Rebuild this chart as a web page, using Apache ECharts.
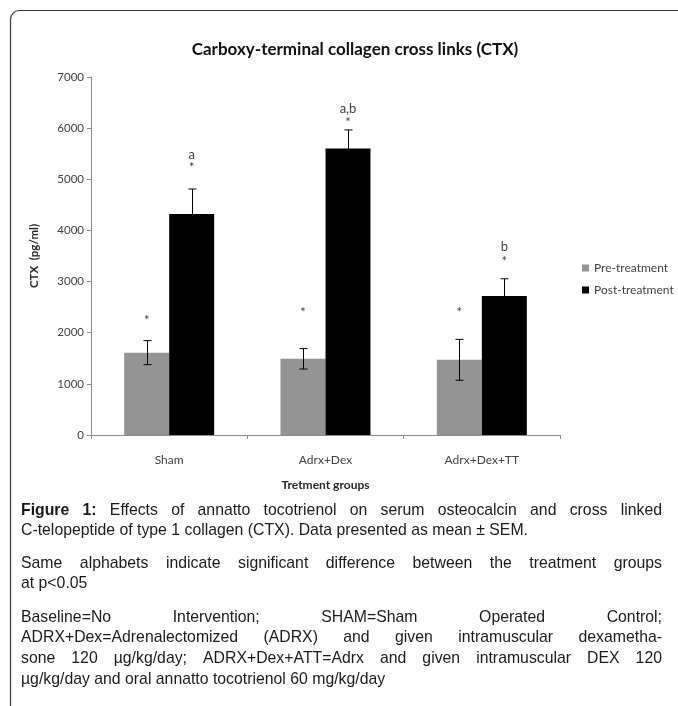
<!DOCTYPE html>
<html>
<head>
<meta charset="utf-8">
<script src="https://cdn.jsdelivr.net/npm/echarts@6/dist/echarts.min.js"></script>
<style>
  html, body { margin: 0; padding: 0; background: #ffffff; }
  #chart { width: 678px; height: 706px; }
</style>
</head>
<body>
<div id="chart"></div>
<script>
// Treatment groups on the category axis
const groups = ['Sham', 'Adrx+Dex', 'Adrx+Dex+TT'];

// Serum CTX (pg/ml), mean and SEM
const preTreatment = [1610, 1490, 1470];
const preSem = [235, 200, 400];
const postTreatment = [4320, 5600, 2720];
const postSem = [490, 365, 335];

// Value axis ticks
const yMin = 0;
const yMax = 7000;
const yStep = 1000;

// Significance marks (value-axis heights of the symbols)
const preStarAt = [2230, 2390, 2390];
const postStarAt = [5220, 6100, 3380];
const postLetters = ['a', 'a,b', 'b'];
const postLetterAt = [5475, 6375, 3675];

const BAR_W = 45;
const chartFont = 'Lato, "Open Sans", sans-serif';
const captionFontFamily = '"Liberation Sans", Arial, sans-serif';
const captionSize = 17;
const captionScaleX = 0.93;

const chart = echarts.init(document.getElementById('chart'), null, { renderer: 'canvas' });

// Error bars drawn beside the bar of one series (side: -1 left bar, +1 right bar)
function errorBarRenderer(side) {
  return function (params, api) {
    const idx = api.value(0);
    const mean = api.value(1);
    const sem = api.value(2);
    const hi = api.coord([idx, mean + sem]);
    const lo = api.coord([idx, mean - sem]);
    const x = Math.round(hi[0] + side * BAR_W / 2) + 0.5;
    const cap = 4;
    const style = { stroke: '#000000', lineWidth: 1 };
    return {
      type: 'group',
      children: [
        { type: 'line', shape: { x1: x, y1: hi[1], x2: x, y2: lo[1] }, style: style },
        { type: 'line', shape: { x1: x - cap, y1: hi[1], x2: x + cap, y2: hi[1] }, style: style },
        { type: 'line', shape: { x1: x - cap, y1: lo[1], x2: x + cap, y2: lo[1] }, style: style }
      ]
    };
  };
}

// Text marks (asterisks / letters) above one side of each category
function markRenderer(side, fontSize, labels) {
  return function (params, api) {
    const idx = api.value(0);
    const p = api.coord([idx, api.value(1)]);
    return {
      type: 'text',
      x: p[0] + side * BAR_W / 2,
      y: p[1],
      style: {
        text: labels[params.dataIndex],
        textAlign: 'center',
        textVerticalAlign: 'middle',
        font: fontSize + 'px ' + chartFont,
        fill: '#404040'
      }
    };
  };
}

// Caption text below the plot
const captionLines = [
  { runs: [['Figure 1:', true], ['Effects of annatto tocotrienol on serum osteocalcin and cross linked', false]], justify: true },
  { runs: [['C-telopeptide of type 1 collagen (CTX). Data presented as mean \u00b1 SEM.', false]], justify: false },
  { runs: [['Same alphabets indicate significant difference between the treatment groups', false]], justify: true },
  { runs: [['at p<0.05', false]], justify: false },
  { runs: [['Baseline=No Intervention; SHAM=Sham Operated Control;', false]], justify: true },
  { runs: [['ADRX+Dex=Adrenalectomized (ADRX) and given intramuscular dexametha-', false]], justify: true },
  { runs: [['sone 120 \u00b5g/kg/day; ADRX+Dex+ATT=Adrx and given intramuscular DEX 120', false]], justify: true },
  { runs: [['\u00b5g/kg/day and oral annatto tocotrienol 60 mg/kg/day', false]], justify: false }
];
const captionY = [510, 530, 563, 583, 617, 637, 658, 679];
const captionX0 = 21;
const captionX1 = 662;

function captionGraphics() {
  const ctx = document.createElement('canvas').getContext('2d');
  const fontOf = (bold) => (bold ? 'bold ' : '') + captionSize + 'px ' + captionFontFamily;
  const out = [];
  captionLines.forEach((line, li) => {
    const words = [];
    line.runs.forEach(([txt, bold]) => {
      txt.split(' ').forEach(w => { if (w) words.push({ w, bold }); });
    });
    words.forEach(o => { ctx.font = fontOf(o.bold); o.width = ctx.measureText(o.w).width * captionScaleX; });
    ctx.font = fontOf(false);
    const space = ctx.measureText(' ').width * captionScaleX;
    const total = words.reduce((s, o) => s + o.width, 0);
    const gap = line.justify && words.length > 1
      ? (captionX1 - captionX0 - total) / (words.length - 1)
      : space;
    let x = captionX0;
    words.forEach(o => {
      out.push({
        type: 'text',
        x: x,
        y: captionY[li],
        scaleX: captionScaleX,
        silent: true,
        style: {
          text: o.w,
          font: fontOf(o.bold),
          fill: '#1a1a1a',
          textVerticalAlign: 'middle'
        }
      });
      x += o.width + gap;
    });
  });
  return out;
}

const option = {
  backgroundColor: '#ffffff',
  animation: false,
  title: {
    text: 'Carboxy-terminal collagen cross links (CTX)',
    left: 350,
    top: 36,
    textAlign: 'center',
    textStyle: { fontFamily: chartFont, fontSize: 17, fontWeight: 'bold', color: '#111111' }
  },
  legend: {
    orient: 'vertical',
    left: 577,
    top: 257,
    itemWidth: 7,
    itemHeight: 7,
    itemGap: 10,
    icon: 'rect',
    data: ['Pre-treatment', 'Post-treatment'],
    textStyle: { fontFamily: chartFont, fontSize: 12, color: '#404040' }
  },
  grid: { left: 91, right: 118, top: 77, bottom: 271, containLabel: false },
  xAxis: {
    type: 'category',
    data: groups,
    name: 'Tretment groups',
    nameLocation: 'middle',
    nameGap: 44,
    nameTextStyle: { fontFamily: chartFont, fontSize: 12, fontWeight: 'bold', color: '#262626' },
    axisLine: { lineStyle: { color: '#8c8c8c', width: 1 } },
    axisTick: { show: true, length: 4, lineStyle: { color: '#8c8c8c' } },
    axisLabel: { margin: 19, fontFamily: chartFont, fontSize: 12, color: '#404040' }
  },
  yAxis: {
    type: 'value',
    min: yMin,
    max: yMax,
    interval: yStep,
    name: 'CTX  (pg/ml)',
    nameLocation: 'middle',
    nameGap: 51,
    nameTextStyle: { fontFamily: chartFont, fontSize: 11.5, fontWeight: 'bold', color: '#262626' },
    axisLine: { show: true, lineStyle: { color: '#8c8c8c', width: 1 } },
    axisTick: { show: true, length: 4, lineStyle: { color: '#8c8c8c' } },
    axisLabel: { margin: 7, fontFamily: chartFont, fontSize: 11.5, color: '#404040', formatter: (v) => String(v) },
    splitLine: { show: false }
  },
  graphic: [
    {
      type: 'rect',
      shape: { x: 10.5, y: 10.5, width: 720, height: 740, r: 9 },
      style: { fill: 'none', stroke: '#3a3a3a', lineWidth: 1.2 },
      silent: true
    }
  ].concat(captionGraphics()),
  series: [
    {
      name: 'Pre-treatment',
      type: 'bar',
      data: preTreatment,
      barWidth: BAR_W,
      barGap: '0%',
      itemStyle: { color: '#949494' }
    },
    {
      name: 'Post-treatment',
      type: 'bar',
      data: postTreatment,
      barWidth: BAR_W,
      barGap: '0%',
      itemStyle: { color: '#000000' }
    },
    {
      type: 'custom',
      renderItem: errorBarRenderer(-1),
      data: preTreatment.map((v, i) => [i, v, preSem[i]]),
      z: 10, silent: true
    },
    {
      type: 'custom',
      renderItem: errorBarRenderer(1),
      data: postTreatment.map((v, i) => [i, v, postSem[i]]),
      z: 10, silent: true
    },
    {
      type: 'custom',
      renderItem: markRenderer(-1, 13, preStarAt.map(() => '*')),
      data: preStarAt.map((v, i) => [i, v]),
      z: 10, silent: true
    },
    {
      type: 'custom',
      renderItem: markRenderer(1, 13, postStarAt.map(() => '*')),
      data: postStarAt.map((v, i) => [i, v]),
      z: 10, silent: true
    },
    {
      type: 'custom',
      renderItem: markRenderer(1, 13, postLetters),
      data: postLetterAt.map((v, i) => [i, v]),
      z: 10, silent: true
    }
  ]
};

chart.setOption(option);
</script>
</body>
</html>
